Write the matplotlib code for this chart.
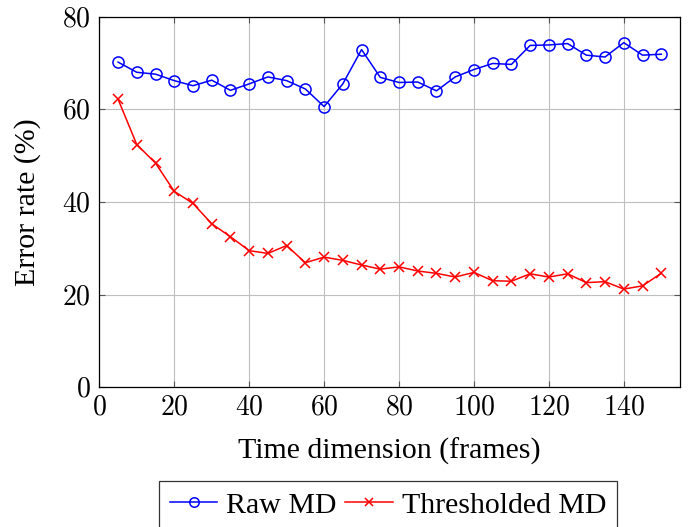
import matplotlib
matplotlib.use('Agg')
import matplotlib.pyplot as plt

# Data
frames = [5, 10, 15, 20, 25, 30, 35, 40, 45, 50, 55, 60, 65, 70, 75,
          80, 85, 90, 95, 100, 105, 110, 115, 120, 125, 130, 135, 140, 145, 150]
raw_md = [70.2, 68.0, 67.6, 66.2, 65.1, 66.3, 64.1, 65.5, 67.0, 66.2, 64.4, 60.6, 65.5, 72.9, 66.9,
          65.8, 65.9, 64.0, 67.0, 68.6, 69.9, 69.7, 73.8, 73.9, 74.2, 71.7, 71.3, 74.4, 71.7, 71.9]
thresholded_md = [62.2, 52.4, 48.4, 42.3, 39.7, 35.3, 32.5, 29.5, 28.9, 30.6, 26.9, 28.1, 27.4, 26.4, 25.5,
                  26.0, 25.1, 24.6, 23.8, 24.8, 23.0, 22.9, 24.5, 23.8, 24.5, 22.6, 22.8, 21.2, 21.9, 24.6]
x_ticks = [0, 20, 40, 60, 80, 100, 120, 140]
y_ticks = [0, 20, 40, 60, 80]

plt.rcParams['font.family'] = ['Liberation Serif', 'DejaVu Serif']
plt.rcParams['mathtext.fontset'] = 'cm'

fig = plt.figure(figsize=(6.94, 5.27), dpi=100)
ax = fig.add_axes([0.1431, 0.2651, 0.8367, 0.7032])

ax.plot(frames, raw_md, color='blue', linewidth=1.1, marker='o', markersize=8,
        markerfacecolor='none', markeredgewidth=1.1, label='Raw MD')
ax.plot(frames, thresholded_md, color='red', linewidth=1.1, marker='x', markersize=7,
        markeredgewidth=1.1, label='Thresholded MD')

ax.set_xlim(0, 155)
ax.set_ylim(0, 80)
ax.set_xticks(x_ticks)
ax.set_yticks(y_ticks)
ax.set_xticklabels([f'${t}$' for t in x_ticks])
ax.set_yticklabels([f'${t}$' for t in y_ticks])

ax.grid(True, color='#bfbfbf', linewidth=0.8)
ax.set_axisbelow(True)
ax.tick_params(direction='in', top=True, right=True, length=4, width=0.8,
               labelsize=20, pad=6, color='#555555')
for spine in ax.spines.values():
    spine.set_linewidth(0.9)

ax.set_xlabel('Time dimension (frames)', fontsize=21.5, labelpad=12)
ax.set_ylabel('Error rate (%)', fontsize=21.5, labelpad=15)

legend = fig.legend(loc='upper left', bbox_to_anchor=(0.229, 0.0873), ncol=2,
                    fontsize=21.5, frameon=True, fancybox=False, edgecolor='black',
                    handlelength=1.6, handletextpad=0.3, columnspacing=0.27,
                    borderpad=0.36, borderaxespad=0, markerscale=0.85)
legend.get_frame().set_linewidth(0.9)

fig.savefig('out.png', dpi=100)
plt.close(fig)
